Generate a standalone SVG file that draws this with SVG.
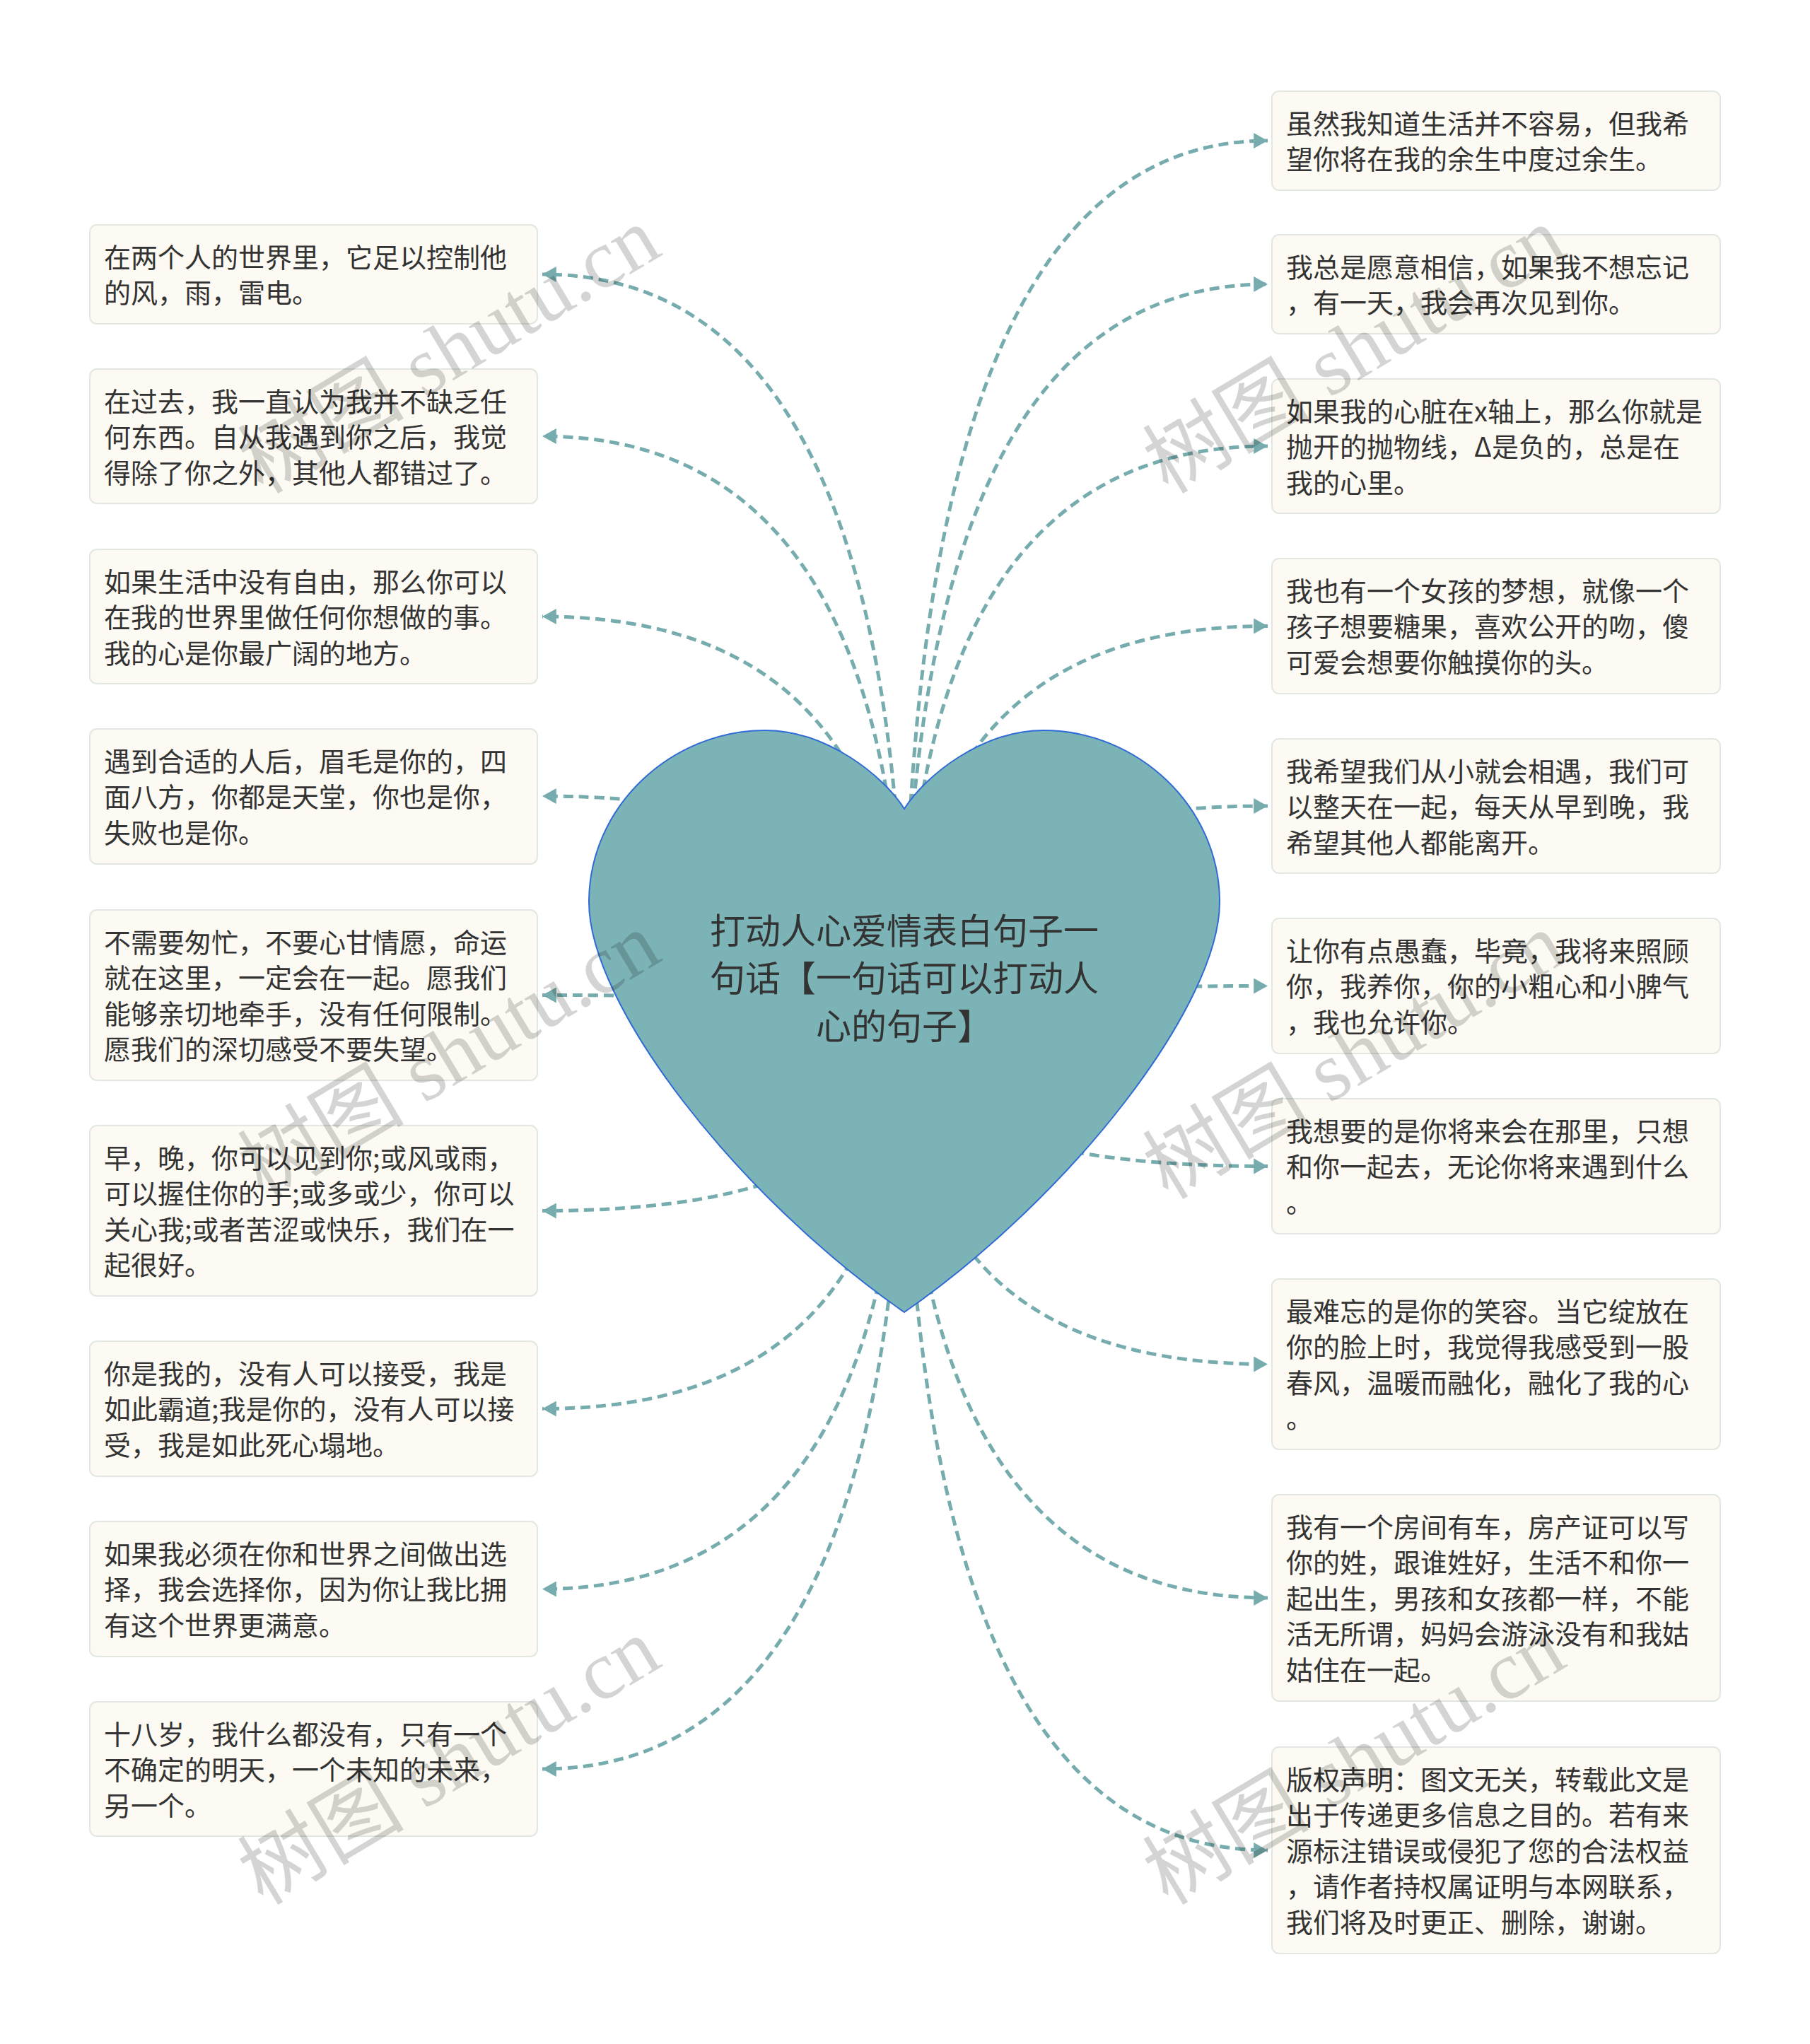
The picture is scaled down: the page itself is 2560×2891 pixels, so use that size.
<svg xmlns="http://www.w3.org/2000/svg" width="2560" height="2891" viewBox="0 0 2560 2891">
<style>
.bg{fill:#ffffff}
.box{fill:#fcfaf2;stroke:#e2e7e2;stroke-width:2}
.t{font-family:"Noto Sans CJK SC","Noto Sans",sans-serif;font-size:38px;fill:#333333}
.ht{font-family:"Noto Sans CJK SC","Noto Sans",sans-serif;font-size:50px;fill:#333333;text-anchor:middle}
.c{fill:none;stroke:#76acae;stroke-width:5;stroke-dasharray:14 8;marker-end:url(#arr)}
.heart{fill:#7cb3b6;stroke:#2f6bd6;stroke-width:2}
.wm{font-family:"Liberation Serif","Noto Sans CJK SC",serif;font-size:118px;fill:#000000;fill-opacity:0.17}
</style>
<defs>
<marker id="arr" markerUnits="userSpaceOnUse" markerWidth="20" markerHeight="22" refX="18" refY="10" orient="auto" viewBox="0 0 18 20">
<path d="M0,0 L18,10 L0,20 Z" fill="#76acae"/>
</marker>
</defs>
<rect class="bg" x="0" y="0" width="2560" height="2891"/>

<g id="connectors">
<path class="c" d="M1279 1445 Q1279 388 767 388"/>
<path class="c" d="M1279 1445 Q1279 617 767 617"/>
<path class="c" d="M1279 1445 Q1279 872 767 872"/>
<path class="c" d="M1279 1445 Q1279 1126 767 1126"/>
<path class="c" d="M1279 1445 Q1279 1407.5 767 1407.5"/>
<path class="c" d="M1279 1445 Q1279 1712.5 767 1712.5"/>
<path class="c" d="M1279 1445 Q1279 1992.5 767 1992.5"/>
<path class="c" d="M1279 1445 Q1279 2247.5 767 2247.5"/>
<path class="c" d="M1279 1445 Q1279 2502 767 2502"/>
<path class="c" d="M1279 1445 Q1279 199 1793 199"/>
<path class="c" d="M1279 1445 Q1279 402 1793 402"/>
<path class="c" d="M1279 1445 Q1279 631 1793 631"/>
<path class="c" d="M1279 1445 Q1279 885.5 1793 885.5"/>
<path class="c" d="M1279 1445 Q1279 1140 1793 1140"/>
<path class="c" d="M1279 1445 Q1279 1394.5 1793 1394.5"/>
<path class="c" d="M1279 1445 Q1279 1649.5 1793 1649.5"/>
<path class="c" d="M1279 1445 Q1279 1929.5 1793 1929.5"/>
<path class="c" d="M1279 1445 Q1279 2260 1793 2260"/>
<path class="c" d="M1279 1445 Q1279 2617 1793 2617"/>
</g>

<g id="center">
<path class="heart" d="M1279 1144 C1250 1098 1170 1033 1082 1033 C950 1033 833 1140 833 1276 C833 1420 1040 1690 1279 1856 C1518 1690 1725 1420 1725 1276 C1725 1140 1608 1033 1476 1033 C1388 1033 1308 1098 1279 1144 Z"/>
<text class="ht" x="1279" y="1335">打动人心爱情表白句子一</text>
<text class="ht" x="1279" y="1402">句话【一句话可以打动人</text>
<text class="ht" x="1279" y="1470">心的句子】</text>
</g>

<g id="L1"><rect class="box" x="127" y="318" width="633" height="140" rx="10"/>
<text class="t" x="147" y="377.5">在两个人的世界里，它足以控制他</text>
<text class="t" x="147" y="428">的风，雨，雷电。</text></g>

<g id="L2"><rect class="box" x="127" y="522" width="633" height="190" rx="10"/>
<text class="t" x="147" y="581.5">在过去，我一直认为我并不缺乏任</text>
<text class="t" x="147" y="632">何东西。自从我遇到你之后，我觉</text>
<text class="t" x="147" y="682.5">得除了你之外，其他人都错过了。</text></g>

<g id="L3"><rect class="box" x="127" y="777" width="633" height="190" rx="10"/>
<text class="t" x="147" y="836.5">如果生活中没有自由，那么你可以</text>
<text class="t" x="147" y="887">在我的世界里做任何你想做的事。</text>
<text class="t" x="147" y="937.5">我的心是你最广阔的地方。</text></g>

<g id="L4"><rect class="box" x="127" y="1031" width="633" height="191" rx="10"/>
<text class="t" x="147" y="1090.5">遇到合适的人后，眉毛是你的，四</text>
<text class="t" x="147" y="1141">面八方，你都是天堂，你也是你，</text>
<text class="t" x="147" y="1191.5">失败也是你。</text></g>

<g id="L5"><rect class="box" x="127" y="1287" width="633" height="241" rx="10"/>
<text class="t" x="147" y="1346.5">不需要匆忙，不要心甘情愿，命运</text>
<text class="t" x="147" y="1397">就在这里，一定会在一起。愿我们</text>
<text class="t" x="147" y="1447.5">能够亲切地牵手，没有任何限制。</text>
<text class="t" x="147" y="1498">愿我们的深切感受不要失望。</text></g>

<g id="L6"><rect class="box" x="127" y="1592" width="633" height="241" rx="10"/>
<text class="t" x="147" y="1651.5">早，晚，你可以见到你;或风或雨，</text>
<text class="t" x="147" y="1702">可以握住你的手;或多或少，你可以</text>
<text class="t" x="147" y="1752.5">关心我;或者苦涩或快乐，我们在一</text>
<text class="t" x="147" y="1803">起很好。</text></g>

<g id="L7"><rect class="box" x="127" y="1897" width="633" height="191" rx="10"/>
<text class="t" x="147" y="1956.5">你是我的，没有人可以接受，我是</text>
<text class="t" x="147" y="2007">如此霸道;我是你的，没有人可以接</text>
<text class="t" x="147" y="2057.5">受，我是如此死心塌地。</text></g>

<g id="L8"><rect class="box" x="127" y="2152" width="633" height="191" rx="10"/>
<text class="t" x="147" y="2211.5">如果我必须在你和世界之间做出选</text>
<text class="t" x="147" y="2262">择，我会选择你，因为你让我比拥</text>
<text class="t" x="147" y="2312.5">有这个世界更满意。</text></g>

<g id="L9"><rect class="box" x="127" y="2407" width="633" height="190" rx="10"/>
<text class="t" x="147" y="2466.5">十八岁，我什么都没有，只有一个</text>
<text class="t" x="147" y="2517">不确定的明天，一个未知的未来，</text>
<text class="t" x="147" y="2567.5">另一个。</text></g>

<g id="R1"><rect class="box" x="1799" y="129" width="634" height="140" rx="10"/>
<text class="t" x="1819" y="188.5">虽然我知道生活并不容易，但我希</text>
<text class="t" x="1819" y="239">望你将在我的余生中度过余生。</text></g>

<g id="R2"><rect class="box" x="1799" y="332" width="634" height="140" rx="10"/>
<text class="t" x="1819" y="391.5">我总是愿意相信，如果我不想忘记</text>
<text class="t" x="1819" y="442">，有一天，我会再次见到你。</text></g>

<g id="R3"><rect class="box" x="1799" y="536" width="634" height="190" rx="10"/>
<text class="t" x="1819" y="595.5">如果我的心脏在x轴上，那么你就是</text>
<text class="t" x="1819" y="646">抛开的抛物线，Δ是负的，总是在</text>
<text class="t" x="1819" y="696.5">我的心里。</text></g>

<g id="R4"><rect class="box" x="1799" y="790" width="634" height="191" rx="10"/>
<text class="t" x="1819" y="849.5">我也有一个女孩的梦想，就像一个</text>
<text class="t" x="1819" y="900">孩子想要糖果，喜欢公开的吻，傻</text>
<text class="t" x="1819" y="950.5">可爱会想要你触摸你的头。</text></g>

<g id="R5"><rect class="box" x="1799" y="1045" width="634" height="190" rx="10"/>
<text class="t" x="1819" y="1104.5">我希望我们从小就会相遇，我们可</text>
<text class="t" x="1819" y="1155">以整天在一起，每天从早到晚，我</text>
<text class="t" x="1819" y="1205.5">希望其他人都能离开。</text></g>

<g id="R6"><rect class="box" x="1799" y="1299" width="634" height="191" rx="10"/>
<text class="t" x="1819" y="1358.5">让你有点愚蠢，毕竟，我将来照顾</text>
<text class="t" x="1819" y="1409">你，我养你，你的小粗心和小脾气</text>
<text class="t" x="1819" y="1459.5">，我也允许你。</text></g>

<g id="R7"><rect class="box" x="1799" y="1554" width="634" height="191" rx="10"/>
<text class="t" x="1819" y="1613.5">我想要的是你将来会在那里，只想</text>
<text class="t" x="1819" y="1664">和你一起去，无论你将来遇到什么</text>
<text class="t" x="1819" y="1714.5">。</text></g>

<g id="R8"><rect class="box" x="1799" y="1809" width="634" height="241" rx="10"/>
<text class="t" x="1819" y="1868.5">最难忘的是你的笑容。当它绽放在</text>
<text class="t" x="1819" y="1919">你的脸上时，我觉得我感受到一股</text>
<text class="t" x="1819" y="1969.5">春风，温暖而融化，融化了我的心</text>
<text class="t" x="1819" y="2020">。</text></g>

<g id="R9"><rect class="box" x="1799" y="2114" width="634" height="292" rx="10"/>
<text class="t" x="1819" y="2173.5">我有一个房间有车，房产证可以写</text>
<text class="t" x="1819" y="2224">你的姓，跟谁姓好，生活不和你一</text>
<text class="t" x="1819" y="2274.5">起出生，男孩和女孩都一样，不能</text>
<text class="t" x="1819" y="2325">活无所谓，妈妈会游泳没有和我姑</text>
<text class="t" x="1819" y="2375.5">姑住在一起。</text></g>

<g id="R10"><rect class="box" x="1799" y="2471" width="634" height="292" rx="10"/>
<text class="t" x="1819" y="2530.5">版权声明：图文无关，转载此文是</text>
<text class="t" x="1819" y="2581">出于传递更多信息之目的。若有来</text>
<text class="t" x="1819" y="2631.5">源标注错误或侵犯了您的合法权益</text>
<text class="t" x="1819" y="2682">，请作者持权属证明与本网联系，</text>
<text class="t" x="1819" y="2732.5">我们将及时更正、删除，谢谢。</text></g>

<g id="watermarks">
<text class="wm" transform="translate(372 700) rotate(-31)">树图 shutu.cn</text>
<text class="wm" transform="translate(372 1698) rotate(-31)">树图 shutu.cn</text>
<text class="wm" transform="translate(372 2696) rotate(-31)">树图 shutu.cn</text>
<text class="wm" transform="translate(1652 700) rotate(-31)">树图 shutu.cn</text>
<text class="wm" transform="translate(1652 1698) rotate(-31)">树图 shutu.cn</text>
<text class="wm" transform="translate(1652 2696) rotate(-31)">树图 shutu.cn</text>
</g>
</svg>
